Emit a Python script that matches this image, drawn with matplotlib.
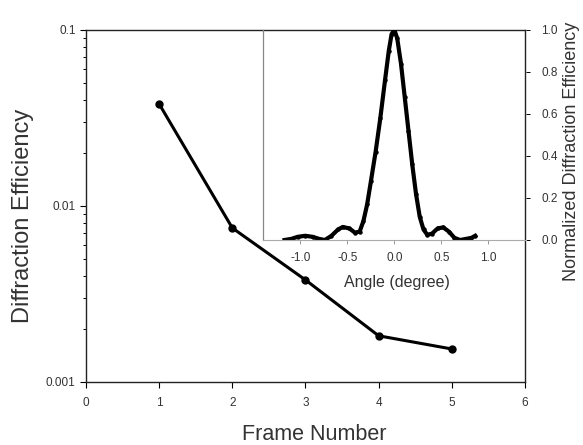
import matplotlib
matplotlib.use("Agg")
import matplotlib.pyplot as plt
from matplotlib.ticker import LogLocator, NullFormatter

plt.rcParams['font.family'] = ['Liberation Sans', 'DejaVu Sans']

frames = [1, 2, 3, 4, 5]
efficiency = [0.038, 0.0075, 0.0038, 0.00183, 0.00154]

angle = [-1.17, -1.10, -1.03, -0.95, -0.87, -0.80, -0.74, -0.67, -0.60, -0.55,
         -0.48, -0.42, -0.37, -0.33, -0.29, -0.25, -0.20, -0.15, -0.10, -0.06,
         -0.03, 0.00, 0.03, 0.07, 0.11, 0.15, 0.19, 0.23, 0.27, 0.31, 0.35,
         0.40, 0.46, 0.52, 0.58, 0.64, 0.70, 0.76, 0.82, 0.86]
norm_eff = [0.00, 0.005, 0.015, 0.02, 0.015, 0.005, 0.00, 0.02, 0.05, 0.062,
            0.055, 0.035, 0.04, 0.09, 0.17, 0.28, 0.42, 0.58, 0.76, 0.90,
            0.98, 1.00, 0.96, 0.84, 0.68, 0.52, 0.36, 0.22, 0.11, 0.05, 0.025,
            0.03, 0.055, 0.06, 0.04, 0.01, 0.00, 0.005, 0.01, 0.02]

x_ticks = [0, 1, 2, 3, 4, 5, 6]
inset_xticks = [-1.0, -0.5, 0.0, 0.5, 1.0]
inset_yticks = [0.0, 0.2, 0.4, 0.6, 0.8, 1.0]

W, H = 583.0, 445.0
txt = '#333333'
fig = plt.figure(figsize=(5.83, 4.45), dpi=100)
ax = fig.add_axes([0.1475, 0.1416, 0.753, 0.791])
ax.plot(frames, efficiency, color='black', lw=2.2, marker='o', ms=5, zorder=3)
ax.set_yscale('log')
ax.set_xlim(0, 6)
ax.set_ylim(0.001, 0.1)
ax.set_xticks(x_ticks)
ax.set_xticklabels([str(t) for t in x_ticks])
ax.set_yticks([0.001, 0.01, 0.1])
ax.set_yticklabels(['0.001', '0.01', '0.1'])
ax.yaxis.set_minor_locator(LogLocator(base=10, subs=range(2, 10)))
ax.yaxis.set_minor_formatter(NullFormatter())
ax.tick_params(axis='both', which='major', labelsize=8.5, length=4, width=0.8,
               colors='black', labelcolor=txt)
ax.tick_params(axis='y', which='minor', length=2.5, width=0.7)
ax.tick_params(axis='x', pad=7)
for s in ax.spines.values():
    s.set_linewidth(1.0)
    s.set_color('#222222')

ins = fig.add_axes([0.451, 0.4607, 0.451, 0.472])
ins.patch.set_alpha(0)
ins.plot(angle, norm_eff, color='black', lw=3, marker='o', ms=2.2)
ins.set_xlim(-1.4, 1.4)
ins.set_ylim(0, 1.0)
ins.set_xticks(inset_xticks)
ins.set_xticklabels(['-1.0', '-0.5', '0.0', '0.5', '1.0'])
ins.set_yticks(inset_yticks)
ins.set_yticklabels(['%.1f' % v for v in inset_yticks])
ins.yaxis.tick_right()
ins.tick_params(axis='both', labelsize=8.5, length=3, width=0.7, labelcolor=txt)
ins.tick_params(axis='x', color='#999999', pad=6)
ins.tick_params(axis='y', pad=8)
ins.spines['left'].set_color('#888888')
ins.spines['left'].set_linewidth(0.9)
ins.spines['bottom'].set_color('#aaaaaa')
ins.spines['bottom'].set_linewidth(0.8)
ins.spines['top'].set_visible(False)
ins.spines['right'].set_visible(False)

# axis titles placed to match the reference layout
fig.text(314 / W, 1 - 434 / H, 'Frame Number', fontsize=15.5, color=txt,
         ha='center', va='center')
fig.text(23 / W, 1 - 216 / H, 'Diffraction Efficiency', fontsize=17, color=txt,
         ha='center', va='center', rotation=90)
fig.text(397 / W, 1 - 283 / H, 'Angle (degree)', fontsize=11.5, color=txt,
         ha='center', va='center')
fig.text(571 / W, 1 - 151 / H, 'Normalized Diffraction Efficiency', fontsize=13,
         color=txt, ha='center', va='center', rotation=90)

fig.savefig('out.png', dpi=100, facecolor='white')
